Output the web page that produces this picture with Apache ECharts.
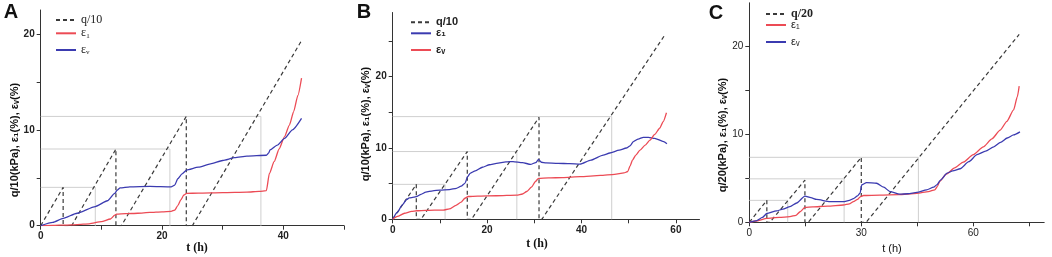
<!DOCTYPE html>
<html><head><meta charset="utf-8">
<script src="https://cdn.jsdelivr.net/npm/echarts@6/dist/echarts.min.js"></script>
<style>html,body{margin:0;padding:0;background:#fff}#c{width:1052px;height:257px}</style>
</head><body><div id="c"></div>
<script>
// ---------- Panel A ----------
const A_q_start = [0, 5.1, 13.3, 25.0];
const A_q_end   = [3.7, 12.4, 24.0, 42.9];
const A_q_peak  = [4.0, 8.0, 11.4, 19.2];
const A_ref_level = [4.0, 8.0, 11.4];
const A_ref_t     = [9.0, 21.3, 36.3];
const A_e1_t = [0, 2, 4, 6, 8, 10, 11.5, 12.2, 12.5, 14, 16, 18, 20, 21.5, 22.1, 22.6, 23.1, 23.6, 24.05, 26, 30, 34, 36, 37.2, 37.7, 38.5, 39.3, 40.2, 41.0, 41.7, 42.4, 43];
const A_e1_v = [0, 0.03, 0.07, 0.12, 0.2, 0.42, 0.7, 1.1, 1.2, 1.25, 1.3, 1.38, 1.45, 1.5, 1.63, 2.1, 2.7, 3.2, 3.37, 3.4, 3.45, 3.5, 3.58, 3.65, 5.45, 6.7, 8.0, 9.3, 10.5, 11.9, 13.6, 15.4];
const A_ev_t = [0, 2, 3.7, 6, 9, 11, 12.2, 12.6, 13.1, 14.7, 18, 21.5, 22.1, 22.6, 23.3, 24.05, 26, 28, 30, 32, 34, 37.2, 37.6, 37.8, 39, 40.2, 41.5, 43];
const A_ev_v = [0, 0.35, 0.77, 1.3, 2.0, 2.6, 3.37, 3.7, 3.95, 4.06, 4.1, 4.05, 4.24, 4.9, 5.4, 5.8, 6.1, 6.45, 6.8, 7.1, 7.25, 7.35, 7.6, 7.9, 8.4, 9.1, 10.0, 11.2];
const A_xticks = [0, 10, 20, 30, 40, 50];
const A_xlabels = [0, 20, 40];
const A_yticks = [0, 5, 10, 15, 20];
const A_ylabels = [0, 10, 20];

// ---------- Panel B ----------
const B_q_start = [0, 6.0, 16.7, 31.6];
const B_q_end   = [5.0, 15.8, 31.0, 57.7];
const B_q_peak  = [4.9, 9.5, 14.3, 25.9];
const B_ref_level = [4.9, 9.5, 14.4];
const B_ref_t     = [11.1, 26.3, 46.4];
const B_e1_t = [0, 1, 2, 3, 3.5, 4.5, 5, 6, 7, 8.5, 10, 12, 13.5, 14.5, 15.3, 15.9, 16.4, 17.5, 19, 20.5, 22, 24, 25.5, 27.5, 29.2, 30.3, 30.9, 31.5, 32.5, 35, 37.5, 39.7, 42, 44.6, 46, 48, 49.5, 50.3, 51, 52, 53.1, 54.2, 55.5, 57.4, 58.1];
const B_e1_v = [0, 1.0, 2.0, 2.8, 3.0, 3.1, 3.17, 3.5, 3.8, 4.0, 4.1, 4.15, 4.35, 4.65, 5.05, 6.0, 6.45, 6.8, 7.3, 7.65, 7.85, 8.05, 8.1, 7.95, 7.7, 7.95, 8.4, 8.0, 7.9, 7.85, 7.8, 7.75, 8.3, 9.0, 9.3, 9.7, 10.0, 10.3, 10.9, 11.25, 11.5, 11.5, 11.35, 10.9, 10.6];
const B_ev_t = [0, 1, 2.5, 4, 5.1, 7, 10.7, 12, 13.4, 14.5, 15.3, 16, 18, 22, 26.3, 27.5, 28.4, 29.4, 30.2, 30.9, 33, 36, 39.7, 44, 47, 49, 49.8, 50.3, 50.8, 51.5, 52.4, 53.5, 54.5, 55.5, 56.6, 57.3, 58];
const B_ev_v = [0, 0.4, 0.85, 1.1, 1.2, 1.25, 1.3, 1.45, 1.95, 2.4, 2.95, 3.2, 3.25, 3.3, 3.4, 3.55, 3.9, 4.5, 5.27, 5.75, 5.8, 5.85, 5.98, 6.15, 6.3, 6.5, 6.7, 7.5, 8.3, 9.0, 9.7, 10.4, 11.1, 11.9, 12.8, 13.7, 14.95];
const B_xticks = [0, 10, 20, 30, 40, 50, 60];
const B_xlabels = [0, 20, 40, 60];
const B_yticks = [0, 5, 10, 15, 20, 25];
const B_ylabels = [0, 10, 20];

// ---------- Panel C ----------
const C_q_start = [0, 5.5, 15.8, 31.3];
const C_q_end   = [4.7, 14.9, 30.0, 72.3];
const C_q_peak  = [2.5, 4.8, 7.4, 21.4];
const C_ref_level = [2.5, 4.95, 7.4];
const C_ref_t     = [10.3, 25.4, 45.3];
const C_e1_t = [0, 2, 4.7, 8, 10.9, 12.5, 13.6, 14.9, 17, 21, 25.2, 26.8, 27.9, 29.0, 29.7, 30.6, 35, 40, 44.9, 48, 49.7, 50.4, 51, 52.8, 55, 57.3, 60, 62.7, 65, 67.2, 69, 70.8, 71.8, 72.3];
const C_e1_v = [0, 0.15, 0.45, 0.55, 0.64, 0.8, 1.2, 1.7, 1.75, 1.85, 1.97, 2.1, 2.35, 2.6, 2.9, 3.05, 3.1, 3.15, 3.3, 3.5, 3.7, 4.1, 4.66, 5.5, 6.2, 6.85, 7.7, 8.6, 9.5, 10.5, 11.5, 12.8, 14.3, 15.5];
const C_ev_t = [0, 2, 3.5, 4.7, 7.3, 9, 10.9, 12.7, 14.9, 16.5, 18, 21.6, 25.2, 26.8, 27.9, 29.0, 29.7, 30.1, 31.4, 34.1, 36, 37.7, 40.3, 42.5, 44.9, 47.5, 49.4, 50.3, 51.2, 53, 54.5, 56.5, 58.8, 61, 63.3, 65.5, 67.3, 69.1, 70.8, 72.5];
const C_ev_v = [0, 0.2, 0.55, 1.0, 1.3, 1.5, 1.79, 2.2, 2.98, 2.8, 2.6, 2.35, 2.35, 2.5, 2.7, 3.0, 3.35, 4.25, 4.52, 4.45, 4.0, 3.5, 3.2, 3.25, 3.4, 3.7, 4.0, 4.3, 4.8, 5.6, 5.85, 6.1, 6.9, 7.7, 8.1, 8.6, 9.1, 9.6, 9.95, 10.3];
const C_xticks = [0, 15, 30, 45, 60, 75];
const C_xlabels = [0, 30, 60];
const C_yticks = [0, 5, 10, 15, 20];
const C_ylabels = [0, 10, 20];

const RED = '#ec4b55', BLUE = '#3b3bb0', DASH = '#3a3a3a', REF = '#cfcfcf';
const SANS = '"Liberation Sans", Arial, sans-serif';
const SERIF = '"Liberation Serif", "Times New Roman", serif';

function zip(t, v) { return t.map((x, i) => [x, v[i]]); }
function saw(s, e, p) {
  const d = [];
  for (let i = 0; i < s.length; i++) {
    d.push([s[i], 0], [e[i], p[i]]);
    if (i < s.length - 1) d.push([e[i], 0]);
  }
  return d;
}

const series = [];
const legends = [];
const names = {};
function panel(idx, P, q, e1, ev, refL, refT, leg) {
  refL.forEach((lv, i) => {
    series.push({ type: 'line', xAxisIndex: idx, yAxisIndex: idx, silent: true, symbol: 'none',
      data: [[0, lv], [refT[i], lv], [refT[i], 0]], lineStyle: { color: REF, width: 1 }, z: 1 });
  });
  series.push({ name: P + 'q', type: 'line', xAxisIndex: idx, yAxisIndex: idx, symbol: 'none',
    data: q, lineStyle: { color: DASH, width: 1.2, type: [4, 3] }, itemStyle: { color: DASH }, z: 2 });
  series.push({ name: P + 'e1', type: 'line', xAxisIndex: idx, yAxisIndex: idx, symbol: 'none', smooth: 0.2, smoothMonotone: 'x',
    data: e1, lineStyle: { color: leg.c1, width: 1.3 }, itemStyle: { color: leg.c1 }, z: 3 });
  series.push({ name: P + 'ev', type: 'line', xAxisIndex: idx, yAxisIndex: idx, symbol: 'none', smooth: 0.2, smoothMonotone: 'x',
    data: ev, lineStyle: { color: leg.c2, width: 1.3 }, itemStyle: { color: leg.c2 }, z: 3 });
  leg.order.forEach((key, r) => {
    names[P + key] = leg.text[r];
    legends.push({ data: [P + key], left: leg.left, top: leg.rows[r] - 7, padding: 0, itemWidth: 20, itemHeight: 14,
      selectedMode: false, formatter: n => names[n], itemStyle: { opacity: 0 },
      textStyle: Object.assign({ color: '#222', lineHeight: 14 }, leg.fonts[r]) });
  });
}

panel(0, 'A', saw(A_q_start, A_q_end, A_q_peak), zip(A_e1_t, A_e1_v), zip(A_ev_t, A_ev_v), A_ref_level, A_ref_t,
  { c1: RED, c2: BLUE, left: 55, rows: [20, 33.3, 50], order: ['q', 'e1', 'ev'], text: ['q/10', 'ε₁', 'εᵥ'],
    fonts: [{ fontFamily: SERIF, fontSize: 12 }, { fontFamily: SERIF, fontSize: 12 }, { fontFamily: SERIF, fontSize: 12 }] });
panel(1, 'B', saw(B_q_start, B_q_end, B_q_peak), zip(B_e1_t, B_e1_v), zip(B_ev_t, B_ev_v), B_ref_level, B_ref_t,
  { c1: BLUE, c2: RED, left: 410, rows: [22.3, 33.3, 50], order: ['q', 'e1', 'ev'], text: ['q/10', 'ε₁', 'εᵥ'],
    fonts: [{ fontFamily: SANS, fontSize: 11, fontWeight: 'bold' }, { fontFamily: SANS, fontSize: 11, fontWeight: 'bold' }, { fontFamily: SANS, fontSize: 11, fontWeight: 'bold' }] });
panel(2, 'C', saw(C_q_start, C_q_end, C_q_peak), zip(C_e1_t, C_e1_v), zip(C_ev_t, C_ev_v), C_ref_level, C_ref_t,
  { c1: RED, c2: BLUE, left: 765, rows: [14, 25, 42], order: ['q', 'e1', 'ev'], text: ['q/20', 'ε₁', 'εᵥ'],
    fonts: [{ fontFamily: SERIF, fontSize: 12, fontWeight: 'bold' }, { fontFamily: SANS, fontSize: 11 }, { fontFamily: SANS, fontSize: 11 }] });

function ax(idx, max, ticks, labels, bold) {
  return { type: 'value', gridIndex: idx, min: 0, max: max,
    axisLine: { show: true, lineStyle: { color: '#333', width: 1 } },
    axisTick: { show: true, length: 4, customValues: ticks, lineStyle: { color: '#333' } },
    axisLabel: { customValues: labels, margin: 6, color: '#222', fontSize: 10, fontFamily: SANS, fontWeight: bold ? 'bold' : 'normal' },
    splitLine: { show: false } };
}

function txt(x, y, text, font, rot) {
  return { type: 'text', x: x, y: y, rotation: rot || 0, silent: true,
    style: { text: text, font: font, fill: '#111', textAlign: 'center', textVerticalAlign: 'middle' } };
}

const option = {
  animation: false,
  backgroundColor: '#fff',
  grid: [
    { left: 40.7, top: 10, width: 303.3, height: 215.7 },
    { left: 392.7, top: 12.5, width: 306.8, height: 206.8 },
    { left: 749.3, top: 2.8, width: 294.9, height: 219.5 }
  ],
  xAxis: [ax(0, 50, A_xticks, A_xlabels, true), ax(1, 65, B_xticks, B_xlabels, true), ax(2, 79, C_xticks, C_xlabels, false)],
  yAxis: [ax(0, 22.5, A_yticks, A_ylabels, true), ax(1, 29, B_yticks, B_ylabels, true), ax(2, 25, C_yticks, C_ylabels, false)],
  legend: legends,
  series: series,
  graphic: [
    txt(11, 12, 'A', 'bold 20px ' + SANS),
    txt(364, 12, 'B', 'bold 20px ' + SANS),
    txt(716, 13, 'C', 'bold 20px ' + SANS),
    txt(15, 140, 'q/10(kPa), ε₁(%), εᵥ(%)', 'bold 11px ' + SANS, Math.PI / 2),
    txt(365.5, 124, 'q/10(kPa), ε₁(%), εᵥ(%)', 'bold 11px ' + SANS, Math.PI / 2),
    txt(723, 135, 'q/20(kPa), ε₁(%), εᵥ(%)', 'bold 11px ' + SANS, Math.PI / 2),
    txt(197, 248, 't (h)', 'bold 12px ' + SERIF),
    txt(537, 244, 't (h)', 'bold 12px ' + SERIF),
    txt(892, 249, 't (h)', '11px ' + SANS)
  ]
};
echarts.init(document.getElementById('c')).setOption(option);
</script></body></html>
